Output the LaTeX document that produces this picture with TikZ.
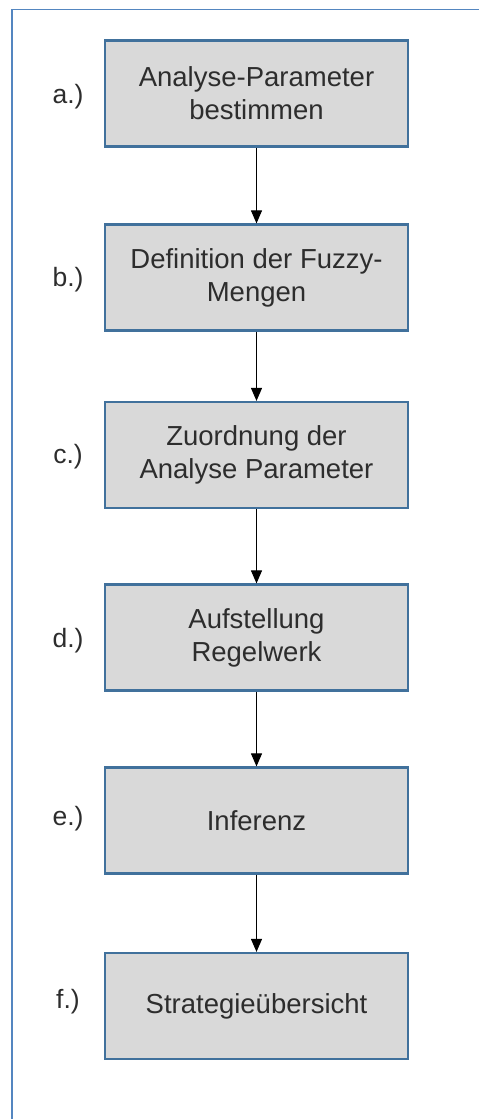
\documentclass[tikz,border=0pt]{standalone}
\usepackage{fontspec}
\setmainfont{Liberation Sans}
\usetikzlibrary{arrows.meta}
\definecolor{boxfill}{RGB}{217,217,217}
\definecolor{boxline}{RGB}{65,113,156}
\definecolor{framecol}{RGB}{84,134,192}
\definecolor{txt}{RGB}{45,45,45}
\begin{document}
\begin{tikzpicture}[x=1pt,y=-1pt,
  stepbox/.style={draw=boxline, line width=2.2pt, fill=boxfill,
    minimum width=303pt, minimum height=106pt, inner sep=0pt,
    align=center, font=\fontsize{27.5}{33}\selectfont, text=txt},
  lbl/.style={font=\fontsize{26.5}{33}\selectfont, text=txt},
  arr/.style={-{Triangle[length=13pt,width=11pt]}, line width=1pt, black},
  frame/.style={draw=framecol, line width=1.6pt}]
\useasboundingbox (0,0) rectangle (479,1119);
% outer frame (cut at right and bottom)
\coordinate (fbl) at (12,1119);
\coordinate (ftl) at (12,9.5);
\coordinate (ftr) at (479,9.5);
\draw[frame] (fbl) -- (ftl) -- (ftr);
% boxes
\node[stepbox] (a) at (256.5,93.5) {Analyse-Parameter\\bestimmen};
\node[stepbox] (b) at (256.5,277.5) {Definition der Fuzzy-\\Mengen};
\node[stepbox] (c) at (256.5,455) {Zuordnung der\\Analyse Parameter};
\node[stepbox] (d) at (256.5,637.5) {Aufstellung\\Regelwerk};
\node[stepbox] (e) at (256.5,820.5) {Inferenz};
\node[stepbox] (f) at (256.5,1006) {Strategieübersicht};
% labels
\node[lbl] (la) at (68,97) {a.)};
\node[lbl] (lb) at (68,280) {b.)};
\node[lbl] (lc) at (68,457) {c.)};
\node[lbl] (ld) at (68,641) {d.)};
\node[lbl] (le) at (68,819) {e.)};
\node[lbl] (lf) at (68,1002) {f.)};
% arrows
\draw[arr] (a.south) -- (b.north);
\draw[arr] (b.south) -- (c.north);
\draw[arr] (c.south) -- (d.north);
\draw[arr] (d.south) -- (e.north);
\draw[arr] (e.south) -- (f.north);
\end{tikzpicture}
\end{document}
